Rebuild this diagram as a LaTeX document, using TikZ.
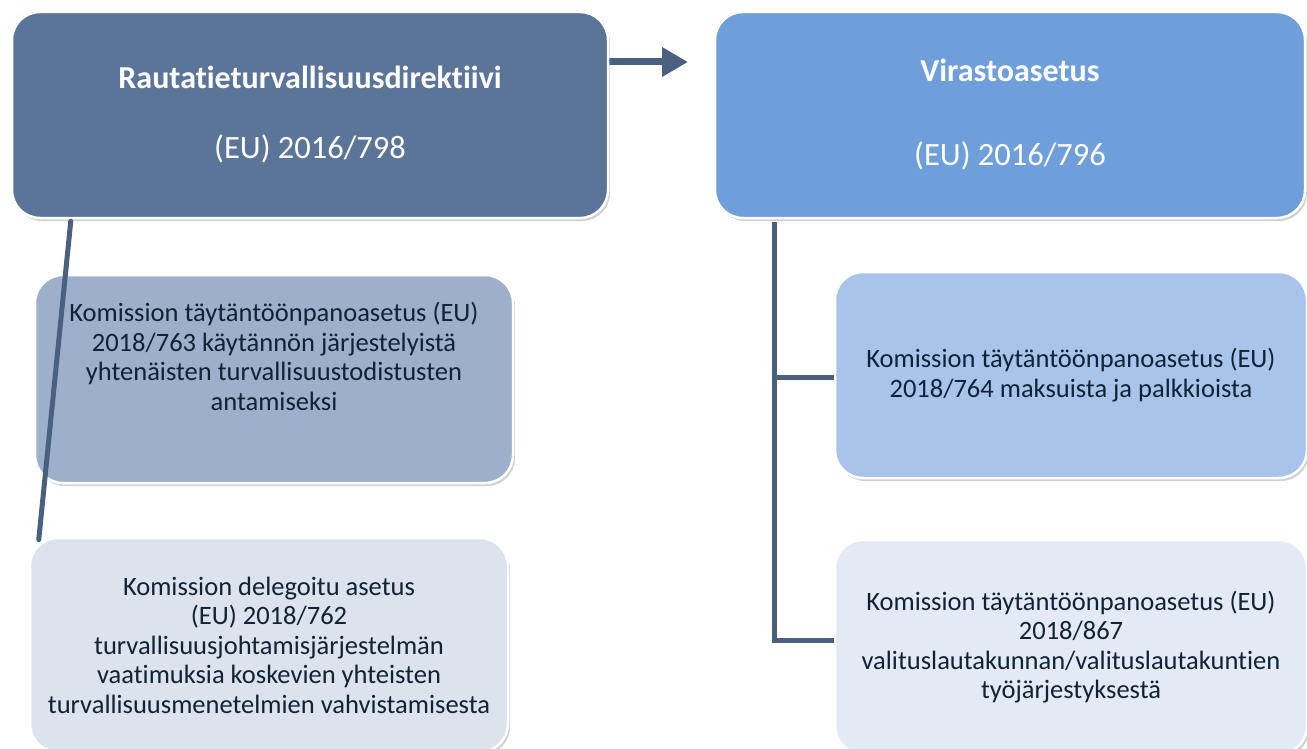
\documentclass[tikz,border=0pt]{standalone}
\usepackage{fontspec}
\setmainfont{Carlito}[Ligatures={NoCommon}]
\usetikzlibrary{calc}
\usetikzlibrary{arrows.meta}
\usetikzlibrary{shadows}

\definecolor{darkbox}{RGB}{91,117,153}
\definecolor{midbox}{RGB}{111,159,219}
\definecolor{greybox}{RGB}{158,175,203}
\definecolor{paleleft}{RGB}{220,227,237}
\definecolor{skybox}{RGB}{169,196,235}
\definecolor{paleright}{RGB}{227,234,246}
\definecolor{linkcol}{RGB}{74,96,128}
\definecolor{navytext}{RGB}{16,34,54}

\tikzset{
  box/.style={draw=white, line width=2.5pt, rounded corners=28pt, align=center,
    inner sep=0pt, font=\fontsize{26.5}{29.5}\selectfont, text=navytext,
    drop shadow={shadow xshift=2pt, shadow yshift=-3pt, opacity=.3, fill=black!60}},
  headbox/.style={box, text=white, font=\fontsize{32.5}{36}\selectfont},
  link/.style={linkcol, line width=5pt, line cap=round}
}

\begin{document}
\begin{tikzpicture} [x=1pt, y=-1pt]
\useasboundingbox (0,0) rectangle (1307,749);
\draw[linkcol, line width=7pt, {Triangle[length=26pt,width=28pt]}-{Triangle[length=26pt,width=28pt]}] (560,62)--(688,62);
\node[headbox, fill=darkbox, minimum width=596pt, minimum height=206pt] (A) at (310,115)
  {{\fontsize{32}{36}\selectfont\bfseries Rautatieturvallisuusdirektiivi}\\[34pt] (EU) 2016/798};
\node[headbox, fill=midbox, minimum width=590pt, minimum height=206pt] (B) at (1010,115)
  {{\fontsize{32}{36}\selectfont\bfseries Virastoasetus}\\[48pt] (EU) 2016/796};
\node[box, fill=greybox, minimum width=478pt, minimum height=208pt] (C) at (274,379) {};
\node[text=navytext, align=center, font=\fontsize{26.5}{29.5}\selectfont] (Ctext) at ([yshift=22.5pt]C.center)
  {Komission täytäntöönpanoasetus (EU)\\2018/763 käytännön järjestelyistä\\yhtenäisten turvallisuustodistusten\\antamiseksi};
\draw[link] ($(A.south west)+(60,2)$) -- ($(C.north west)+(5,266)$) coordinate (dtop);
\node[box, fill=paleleft, minimum width=478pt, minimum height=214pt] (D) at (269,645)
  {Komission delegoitu asetus\\(EU) 2018/762\\turvallisuusjohtamisjärjestelmän\\vaatimuksia koskevien yhteisten\\turvallisuusmenetelmien vahvistamisesta};
\node[box, fill=skybox, minimum width=472pt, minimum height=206pt] (E) at (1071,375)
  {Komission täytäntöönpanoasetus (EU)\\2018/764 maksuista ja palkkioista};
\node[box, fill=paleright, minimum width=472pt, minimum height=214pt] (F) at (1071,647)
  {Komission täytäntöönpanoasetus (EU)\\2018/867\\valituslautakunnan/valituslautakuntien\\työjärjestyksestä};
\draw[link, line cap=butt] ($(B.south west)+(61,3)$) |- ([yshift=7pt]F.west);
\draw[link, line cap=butt] ($(B.south west)+(61,3)$) |- ([yshift=-2pt]E.west);
\end{tikzpicture}
\end{document}
